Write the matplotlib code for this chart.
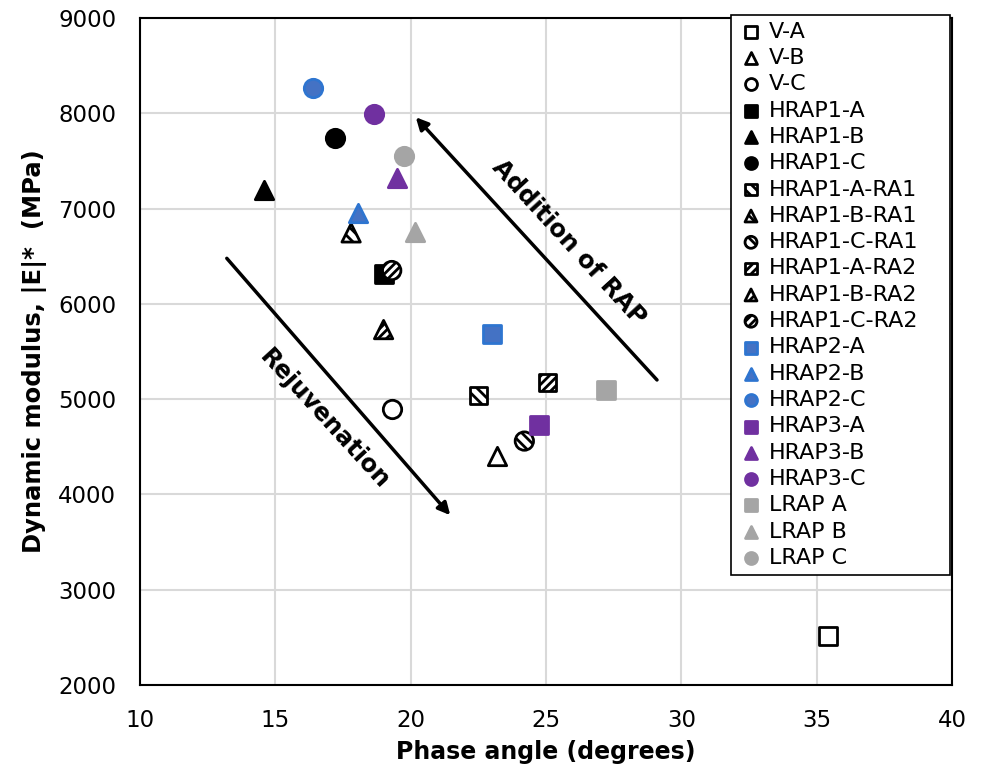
import matplotlib.pyplot as plt
import numpy as np

plt.rcParams['font.family'] = ['DejaVu Sans']
plt.rcParams['hatch.linewidth'] = 2.0

# binder series: (name, phase angle [deg], |E|* [MPa])
names = ['V-A', 'V-B', 'V-C',
         'HRAP1-A', 'HRAP1-B', 'HRAP1-C',
         'HRAP1-A-RA1', 'HRAP1-B-RA1', 'HRAP1-C-RA1',
         'HRAP1-A-RA2', 'HRAP1-B-RA2', 'HRAP1-C-RA2',
         'HRAP2-A', 'HRAP2-B', 'HRAP2-C',
         'HRAP3-A', 'HRAP3-B', 'HRAP3-C',
         'LRAP A', 'LRAP B', 'LRAP C']
phase = [35.4, 23.2, 19.3,
         19.0, 14.6, 17.2,
         22.5, 17.8, 24.2,
         25.05, 19.0, 19.3,
         23.0, 18.05, 16.4,
         24.75, 19.5, 18.65,
         27.2, 20.15, 19.75]
modulus = [2510, 4400, 4895,
           6310, 7200, 7740,
           5040, 6745, 4560,
           5170, 5730, 6350,
           5680, 6955, 8265,
           4730, 7320, 7990,
           5095, 6750, 7550]

shapes = ['s', '^', 'o'] * 7
faces = (['white'] * 3 + ['black'] * 3 + ['white'] * 6
         + ['#4472C4'] * 3 + ['#7030A0'] * 3 + ['#A5A5A5'] * 3)
edges = (['black'] * 12 + ['#2E75D0'] * 3 + ['#7030A0'] * 3 + ['#A5A5A5'] * 3)
hatches = [None] * 6 + ['\\\\\\'] * 3 + ['////'] * 3 + [None] * 9

fig = plt.figure(figsize=(9.83, 7.7), dpi=100)
ax = fig.add_axes([0.1424, 0.1104, 0.8261, 0.8662])

for i in range(len(names)):
    size = 150 if shapes[i] == 's' else 175
    ax.scatter(phase[i], modulus[i], marker=shapes[i], s=size,
               facecolor=faces[i], edgecolor=edges[i], linewidth=2,
               hatch=hatches[i], label=names[i], zorder=3)

ax.set_xlim(10, 40)
ax.set_ylim(2000, 9000)
ax.set_xticks(np.arange(10, 41, 5))
ax.set_yticks(np.arange(2000, 9001, 1000))
ax.grid(color='#D9D9D9', linewidth=1.5, zorder=0)
ax.set_axisbelow(True)
ax.tick_params(length=0, labelsize=16.5, pad=17)
for sp in ax.spines.values():
    sp.set_linewidth(1.5)
    sp.set_color('black')

ax.set_xlabel('Phase angle (degrees)', fontsize=17, fontweight='bold', labelpad=6)
ax.set_ylabel('Dynamic modulus, |E|*  (MPa)', fontsize=17.5, fontweight='bold', labelpad=8)

# trend arrows
ax.annotate('', xy=(20.12, 7980), xytext=(29.17, 5180),
            arrowprops=dict(arrowstyle='-|>', color='black', lw=2.5, mutation_scale=18))
ax.annotate('', xy=(21.53, 3760), xytext=(13.14, 6500),
            arrowprops=dict(arrowstyle='-|>', color='black', lw=2.5, mutation_scale=18))
ax.text(25.85, 6640, 'Addition of RAP', rotation=-47.5, fontsize=17.5, fontweight='bold',
        ha='center', va='center', rotation_mode='anchor')
ax.text(16.8, 4790, 'Rejuvenation', rotation=-47.5, fontsize=17.5, fontweight='bold',
        ha='center', va='center', rotation_mode='anchor')

leg = ax.legend(loc='upper left',
                bbox_to_anchor=(731 / 983, 1 - 575 / 770, 219 / 983, 560 / 770),
                bbox_transform=fig.transFigure, mode='expand', borderaxespad=0,
                fontsize=16, frameon=True, fancybox=False, edgecolor='black',
                framealpha=1, handletextpad=0.2, handlelength=1.2,
                labelspacing=0.284, borderpad=0.3, markerscale=0.65)
leg.get_frame().set_linewidth(1.2)
leg.set_zorder(5)

fig.savefig('out.png', dpi=100)
